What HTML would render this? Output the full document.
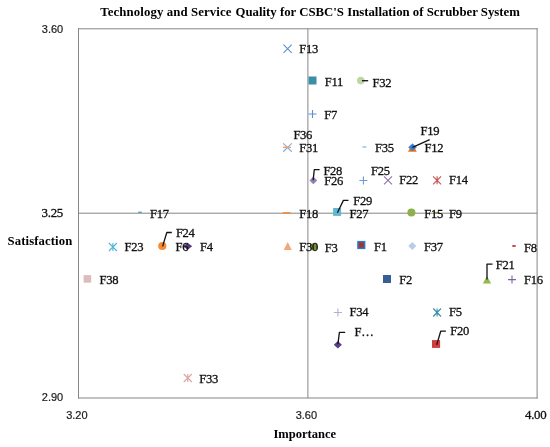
<!DOCTYPE html>
<html>
<head>
<meta charset="utf-8">
<title>Technology and Service Quality</title>
<style>
  html, body { margin: 0; padding: 0; background: #ffffff; }
  body { width: 550px; height: 447px; overflow: hidden; font-family: "Liberation Serif", serif; }
  svg { display: block; }
  text { font-family: "Liberation Serif", serif; font-size: 12.6px; letter-spacing: -0.3px; fill: #111111; stroke: #111111; stroke-width: 0.3px; }
  .sans { font-family: "Liberation Sans", sans-serif; font-size: 11px; letter-spacing: 0; fill: #1a1a1a; stroke: #1a1a1a; stroke-width: 0.2px; }
  .b { font-weight: bold; fill: #000000; letter-spacing: 0; stroke: none; }
  .ld { fill: none; stroke: #111118; stroke-width: 1.3; stroke-linejoin: round; stroke-linecap: butt; }
</style>
</head>
<body>
<svg width="550" height="447" viewBox="0 0 550 447">
  <rect x="0" y="0" width="550" height="447" fill="#ffffff"/>

  <!-- plot frame and cross lines -->
  <g fill="none" stroke="#858585" stroke-width="1">
    <path d="M78.5 28.3 V398.5 M537.1 28.3 V398.5 M78 28.8 H537.6 M78 398 H537.6"/>
    <line x1="307.9" y1="28.8" x2="307.9" y2="398"/>
    <line x1="78.5" y1="213.2" x2="537.1" y2="213.2"/>
  </g>

  <!-- title and axis titles -->
  <text class="b" x="100.3" y="16" textLength="131.2" lengthAdjust="spacing" style="font-size:12.8px">Technology and Service</text>
  <text class="b" x="235.5" y="16" textLength="284.4" lengthAdjust="spacing" style="font-size:12.8px">Quality for CSBC'S Installation of Scrubber System</text>
  <text class="b" x="7.6" y="245" textLength="64.6" lengthAdjust="spacing" style="font-size:12.7px">Satisfaction</text>
  <text class="b" x="273.4" y="438" textLength="62.8" lengthAdjust="spacingAndGlyphs" style="font-size:12.5px">Importance</text>

  <!-- tick labels -->
  <text class="sans" x="41.8" y="33">3.60</text>
  <text x="41.6" y="217" textLength="21.4" lengthAdjust="spacingAndGlyphs">3.25</text>
  <text class="sans" x="41.8" y="401">2.90</text>
  <text class="sans" x="66.2" y="419">3.20</text>
  <text class="sans" x="295.7" y="419">3.60</text>
  <text x="525" y="419" textLength="21.3" lengthAdjust="spacingAndGlyphs">4.00</text>

  <!-- ===== markers ===== -->
  <!-- F13 blue x -->
  <path d="M283.5 44.7 L291.7 52.9 M291.7 44.7 L283.5 52.9" stroke="#5b8fd0" stroke-width="1.1" fill="none"/>
  <!-- F11 teal square -->
  <rect x="308.5" y="76.5" width="8" height="8" fill="#3b8ea5"/>
  <!-- F32 light green circle -->
  <circle cx="360.8" cy="80.6" r="3.8" fill="#bcd6a4"/>
  <line x1="362" y1="80.7" x2="368.2" y2="80.7" stroke="#111118" stroke-width="1.3"/>
  <!-- F7 blue plus -->
  <path d="M308.5 114 H316.5 M312.5 110 V118" stroke="#5b8fd0" stroke-width="1.1" fill="none"/>
  <!-- F31 / F36 pink x with orange dash -->
  <path d="M283.2 143.4 L291.8 151.8 M291.8 143.4 L283.2 151.8" stroke="#8eabdf" stroke-width="1.2" fill="none"/>
  <line x1="282.9" y1="147.4" x2="290.9" y2="147.4" stroke="#f9a060" stroke-width="1.4"/>
  <!-- F35 light teal dash -->
  <line x1="362.4" y1="147" x2="366.4" y2="147" stroke="#8fcbdc" stroke-width="1.5"/>
  <!-- F12 orange triangle + F19 blue diamond -->
  <path d="M408 151.7 L412.4 143.6 L416.8 151.7 Z" fill="#e8751a"/>
  <path d="M408.2 147.3 L412.5 143.6 L416.8 147.3 L412.5 151 Z" fill="#3a7bd0"/>
  <path class="ld" d="M429.7 139.6 L412.5 147.3"/>
  <!-- F26 / F28 purple diamond -->
  <path d="M309.5 180.4 L313.35 176.6 L317.2 180.4 L313.35 184.2 Z" fill="#9480b8"/>
  <path class="ld" d="M319.6 169.6 H314.3 L313.1 180.2"/>
  <!-- F25 blue plus -->
  <path d="M359.4 180.5 H367.4 M363.4 176.5 V184.5" stroke="#6c9bd8" stroke-width="1.1" fill="none"/>
  <!-- F22 purple x -->
  <path d="M384 176.4 L392 184.4 M392 176.4 L384 184.4" stroke="#8b72ac" stroke-width="1.1" fill="none"/>
  <!-- F14 red asterisk -->
  <path d="M433.1 176.3 L441.1 184.3 M441.1 176.3 L433.1 184.3 M437.1 176.3 V184.3" stroke="#c9504c" stroke-width="1.1" fill="none"/>
  <!-- F17 small blue dash -->
  <line x1="138.2" y1="212.3" x2="141.8" y2="212.3" stroke="#3fa9d6" stroke-width="1.4"/>
  <!-- F18 orange dash -->
  <line x1="282.7" y1="213" x2="290.5" y2="213" stroke="#f08a2c" stroke-width="1.6"/>
  <!-- F27 / F29 light blue square -->
  <rect x="333.1" y="208" width="8" height="7.9" fill="#60b7d2"/>
  <path class="ld" d="M348.5 200.4 H343.4 L337.4 212.8"/>
  <!-- F15 green circle -->
  <circle cx="411.4" cy="212.4" r="4" fill="#8cb04a"/>
  <!-- F9 small green dash (sits behind F15 label) -->
  <line x1="434.4" y1="212.7" x2="439.6" y2="212.7" stroke="#7f9f3f" stroke-width="1.6"/>
  <!-- F23 cyan asterisk -->
  <path d="M108.9 243 L116.9 251 M116.9 243 L108.9 251 M112.9 243 V251" stroke="#4fb6d6" stroke-width="1.1" fill="none"/>
  <!-- F6 / F24 orange circle -->
  <circle cx="162.3" cy="246" r="4.1" fill="#f68b32"/>
  <path class="ld" d="M171.8 232.5 H166.8 L162.6 246.4"/>
  <!-- F4 dark purple diamond -->
  <path d="M183 246.3 L187.6 242.8 L192.2 246.3 L187.6 249.8 Z" fill="#55397f"/>
  <!-- F38 pink square -->
  <rect x="83.6" y="275.1" width="7.6" height="7.6" fill="#dfbcbc"/>
  <!-- F33 pink asterisk -->
  <path d="M183.7 374 L191.9 382 M191.9 374 L183.7 382 M187.8 373.9 V382.1" stroke="#dea3a3" stroke-width="1.1" fill="none"/>
  <!-- F30 light orange triangle -->
  <path d="M283.7 250 L287.7 242 L291.8 250 Z" fill="#f5a77b"/>
  <!-- F3 olive circle -->
  <circle cx="313.8" cy="246.8" r="3.6" fill="#76923a"/>
  <!-- F1 square blue border red fill -->
  <rect x="357.9" y="241.6" width="6.8" height="6.8" fill="#983a37" stroke="#2b7dd2" stroke-width="1.4"/>
  <!-- F37 light blue diamond -->
  <path d="M408.3 246 L412.3 242 L416.3 246 L412.3 250 Z" fill="#b9cde6"/>
  <!-- F8 red dash -->
  <line x1="512.3" y1="246" x2="515.7" y2="246" stroke="#b81414" stroke-width="1.5"/>
  <!-- F2 dark blue square -->
  <rect x="383" y="275" width="8" height="8" fill="#365f94"/>
  <!-- F21 green triangle -->
  <path d="M482.8 283.5 L487 276.2 L491.2 283.5 Z" fill="#90b94a"/>
  <path class="ld" d="M492.5 264.1 H487 V279.5"/>
  <!-- F16 purple plus -->
  <path d="M508 279.6 H516 M512 275.6 V283.6" stroke="#8064a2" stroke-width="1.1" fill="none"/>
  <!-- F34 lavender plus -->
  <path d="M333.8 312.5 H342 M337.9 308.4 V316.6" stroke="#b9acd0" stroke-width="1.1" fill="none"/>
  <!-- F5 teal asterisk -->
  <path d="M433.2 308.5 L441 316.5 M441 308.5 L433.2 316.5 M437.1 308.4 V316.6" stroke="#378ea8" stroke-width="1.1" fill="none"/>
  <!-- F... dark purple diamond -->
  <path d="M333.8 344.8 L337.85 341 L341.9 344.8 L337.85 348.6 Z" fill="#5a3e8e"/>
  <path class="ld" d="M345.2 332.3 H339.4 L337.9 344.2"/>
  <!-- F20 red square -->
  <rect x="432" y="340.1" width="8.1" height="7.8" fill="#d03c3c"/>
  <path class="ld" d="M445.9 331.2 H440.7 L436.7 344.9"/>

  <!-- ===== data labels ===== -->
  <text x="299.3" y="53">F13</text>
  <text x="324.7" y="86">F11</text>
  <text x="372.5" y="87">F32</text>
  <text x="324.2" y="119">F7</text>
  <text x="293.4" y="139">F36</text>
  <text x="299.3" y="152">F31</text>
  <text x="375" y="152">F35</text>
  <text x="420.5" y="135">F19</text>
  <text x="424.5" y="152">F12</text>
  <text x="323.4" y="175">F28</text>
  <text x="324.3" y="185">F26</text>
  <text x="371" y="175">F25</text>
  <text x="399.3" y="184">F22</text>
  <text x="449" y="184">F14</text>
  <text x="150" y="218">F17</text>
  <text x="299.3" y="218">F18</text>
  <text x="353.2" y="205">F29</text>
  <text x="349.6" y="218">F27</text>
  <text x="424.3" y="218">F15</text>
  <text x="449" y="218">F9</text>
  <text x="124.6" y="251">F23</text>
  <text x="175.9" y="237">F24</text>
  <text x="175.5" y="251">F6</text>
  <text x="200" y="251">F4</text>
  <text x="99.6" y="284">F38</text>
  <text x="199.3" y="383">F33</text>
  <text x="299.3" y="251">F30</text>
  <text x="324.7" y="252">F3</text>
  <text x="374.1" y="251">F1</text>
  <text x="424" y="251">F37</text>
  <text x="524" y="252">F8</text>
  <text x="399.3" y="284">F2</text>
  <text x="495.7" y="269">F21</text>
  <text x="524" y="284">F16</text>
  <text x="349.6" y="316">F34</text>
  <text x="449" y="316">F5</text>
  <text x="354.5" y="336">F…</text>
  <text x="450.2" y="335">F20</text>
  <!-- forces grayscale text antialiasing -->
  <g style="mix-blend-mode:multiply"><rect x="0" y="0" width="1" height="1" fill="#ffffff"/></g>
</svg>
</body>
</html>
